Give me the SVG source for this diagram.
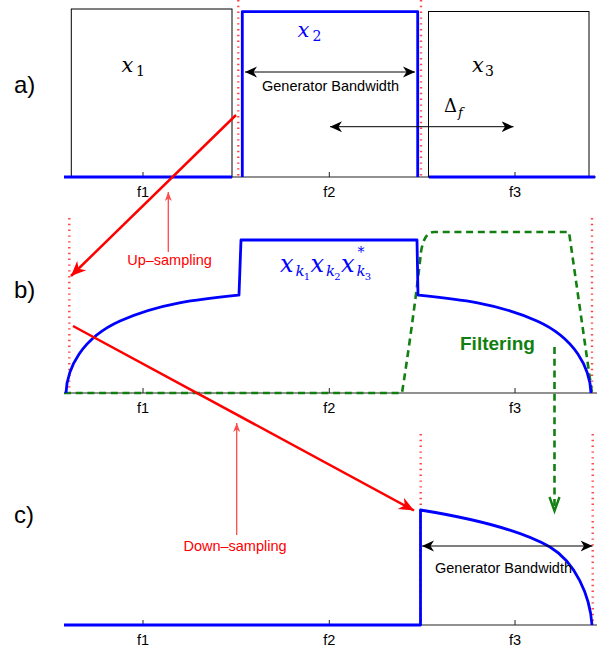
<svg xmlns="http://www.w3.org/2000/svg" width="608" height="652" viewBox="0 0 608 652">
<defs>
<style>
.lbl{font-family:"Liberation Sans",Arial,sans-serif;font-size:24px;fill:#000}
.tk{font-family:"Liberation Sans",Arial,sans-serif;font-size:14.5px;fill:#000;text-anchor:middle}
.txt{font-family:"Liberation Sans",Arial,sans-serif;font-size:14.5px;fill:#000;text-anchor:middle}
.rtxt{font-family:"Liberation Sans",Arial,sans-serif;font-size:14.5px;fill:#ff0000;text-anchor:middle}
.m{font-family:"DejaVu Serif","Liberation Serif",serif;font-style:italic}
.n{font-family:"DejaVu Serif","Liberation Serif",serif;font-style:normal}
.ax{stroke:#222;stroke-width:1;fill:none}
.box{stroke:#000;stroke-width:1;fill:none}
.sig{stroke:#0000ff;stroke-width:2.8;fill:none;stroke-linejoin:round}
.rd{stroke:#ff4545;stroke-width:2.4;stroke-dasharray:1.4 4.4;fill:none}
.flt{stroke:#118011;stroke-width:2.6;stroke-dasharray:7 4.7;fill:none;stroke-linejoin:round}
.big{stroke:#ff0000;stroke-width:2.5;fill:none}
.thin{stroke:#ff4a4a;stroke-width:1.3;fill:none}
.dbl{stroke:#000;stroke-width:1;fill:none}
</style>
<marker id="hk" viewBox="-12 -6 12 12" refX="0" refY="0" markerWidth="12" markerHeight="12" orient="auto-start-reverse" markerUnits="userSpaceOnUse">
<path d="M0,0 L-12,-5.5 L-8.5,0 L-12,5.5 Z" fill="#000"/>
</marker>
<marker id="hr" viewBox="-15 -7 15 14" refX="0" refY="0" markerWidth="15" markerHeight="14" orient="auto" markerUnits="userSpaceOnUse">
<path d="M0,0 L-15,-6.5 L-10.5,0 L-15,6.5 Z" fill="#ff0000"/>
</marker>
<marker id="hs" viewBox="-9 -4 9 8" refX="0" refY="0" markerWidth="9" markerHeight="8" orient="auto" markerUnits="userSpaceOnUse">
<path d="M0,0 L-9,-3.5 L-6.5,0 L-9,3.5 Z" fill="#ff4a4a"/>
</marker>
</defs>
<rect width="608" height="652" fill="#fff"/>

<g id="panel-a">
<line class="ax" x1="64" y1="177" x2="596" y2="177"/>
<path class="ax" d="M143,177 V172 M329.3,177 V172 M515,177 V172"/>
<rect class="box" x="71.3" y="9" width="160.7" height="168"/>
<rect class="box" x="428.5" y="11.5" width="160.5" height="165.5"/>
<line class="rd" x1="238.3" y1="0" x2="238.3" y2="177"/>
<line class="rd" x1="421" y1="0" x2="421" y2="177"/>
<path class="sig" d="M64,177 H232 M242.3,177 V11.7 H417.7 V177 M429,177 H595"/>
<text class="tk" x="143" y="196.5">f1</text>
<text class="tk" x="329.3" y="196.5">f2</text>
<text class="tk" x="515" y="196.5">f3</text>
<text class="lbl" x="14" y="93">a)</text>
<text class="m" x="121.5" y="71.7" font-size="21">x</text><text class="n" x="136" y="76" font-size="14">1</text>
<text class="m" x="297.5" y="36.7" font-size="21" fill="#0000ff">x</text><text class="n" x="312.5" y="41" font-size="14" fill="#0000ff">2</text>
<text class="m" x="472" y="71.7" font-size="21">x</text><text class="n" x="485" y="76" font-size="14">3</text>
<text class="n" x="444" y="112" font-size="18">Δ</text><text class="m" x="458" y="117" font-size="13">f</text>
<line class="dbl" x1="245" y1="72" x2="415" y2="72" marker-start="url(#hk)" marker-end="url(#hk)"/>
<text class="txt" x="330.5" y="90.7">Generator Bandwidth</text>
<line class="dbl" x1="330" y1="126.7" x2="513.5" y2="126.7" marker-start="url(#hk)" marker-end="url(#hk)"/>
</g>

<g id="panel-b">
<line class="ax" x1="64" y1="393" x2="597" y2="393"/>
<path class="ax" d="M143,393 V388 M329.3,393 V388 M515,393 V388"/>
<line class="rd" x1="69.3" y1="218" x2="69.3" y2="393"/>
<line class="rd" x1="592" y1="218" x2="592" y2="393"/>
<path class="flt" d="M64,393 H402 C408,355 417,290 421,252 Q424,232 434,232 H569 L592,393"/>
<path class="sig" d="M66,393 C67,368 82,338 120,321 C160,303 200,299 239,295 L241,240 H417 L418,295 C457,299 497,303 537,321 C575,338 590,368 591,393"/>
<text class="tk" x="143" y="412.5">f1</text>
<text class="tk" x="329.3" y="412.5">f2</text>
<text class="tk" x="515" y="412.5">f3</text>
<text class="lbl" x="14" y="297.7">b)</text>
<g id="xk-label" fill="#0000ff">
<text class="m" x="280" y="271.7" font-size="24">x</text>
<text class="m" x="295.5" y="276" font-size="15">k</text>
<text class="n" x="303.8" y="280" font-size="10">1</text>
<text class="m" x="310.5" y="271.7" font-size="24">x</text>
<text class="m" x="326" y="276" font-size="15">k</text>
<text class="n" x="334.3" y="280" font-size="10">2</text>
<text class="m" x="341" y="271.7" font-size="24">x</text>
<text class="n" x="357.5" y="257" font-size="14">*</text>
<text class="m" x="356.5" y="276" font-size="15">k</text>
<text class="n" x="364.8" y="280" font-size="10">3</text>
</g>
<text x="460" y="350" font-family="Liberation Sans,Arial,sans-serif" font-size="19" font-weight="bold" fill="#118011">Filtering</text>
</g>

<g id="panel-c">
<line class="ax" x1="64" y1="625" x2="597" y2="625"/>
<path class="ax" d="M143,625 V620 M329.3,625 V620 M515,625 V620"/>
<line class="rd" x1="420.7" y1="434" x2="420.7" y2="625"/>
<line class="rd" x1="592.7" y1="434" x2="592.7" y2="625"/>
<path class="sig" d="M64,625 H420.5 V510 C470,518 520,530 550,547 C575,562 590,595 592,625"/>
<text class="tk" x="143" y="645">f1</text>
<text class="tk" x="329.3" y="645">f2</text>
<text class="tk" x="515" y="645">f3</text>
<text class="lbl" x="14" y="523">c)</text>
<line class="dbl" x1="422" y1="546" x2="592.5" y2="546" marker-start="url(#hk)" marker-end="url(#hk)"/>
<text class="txt" x="503.5" y="573.3">Generator Bandwidth</text>
</g>

<g id="connectors">
<line class="big" x1="236" y1="115" x2="71" y2="276" marker-end="url(#hr)"/>
<line class="big" x1="73" y1="326" x2="414" y2="510.5" marker-end="url(#hr)"/>
<line class="thin" x1="168.3" y1="252" x2="168.3" y2="192" marker-end="url(#hs)"/>
<line class="thin" x1="236.7" y1="535" x2="236.7" y2="423" marker-end="url(#hs)"/>
<line class="flt" x1="554.5" y1="347" x2="554.5" y2="508"/>
<path d="M549.5,497 L554.5,511 L559.5,497" stroke="#118011" stroke-width="2.4" fill="none"/>
</g>
<text class="rtxt" x="169.5" y="265">Up–sampling</text>
<text class="rtxt" x="235" y="551">Down–sampling</text>
</svg>
